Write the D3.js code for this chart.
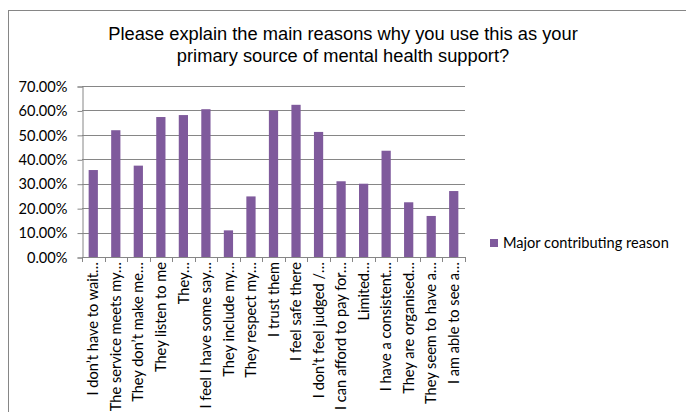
<!DOCTYPE html>
<html>
<head>
<meta charset="utf-8">
<script src="https://cdn.jsdelivr.net/npm/d3@7"></script>
<style>
  body { margin: 0; background: #fff; }
  svg { display: block; }
</style>
</head>
<body>
<script>
const width = 686;
const height = 412;

const titleLines = [
  "Please explain the main reasons why you use this as your",
  "primary source of mental health support?"
];
const categories = [
  "I don\u2019t have to wait\u2026",
  "The service meets my\u2026",
  "They don\u2019t make me\u2026",
  "They listen to me",
  "They\u2026",
  "I feel I have some say\u2026",
  "They include my\u2026",
  "They respect my\u2026",
  "I trust them",
  "I feel safe there",
  "I don\u2019t feel judged /\u2026",
  "I can afford to pay for\u2026",
  "Limited\u2026",
  "I have a consistent\u2026",
  "They are organised\u2026",
  "They seem to have a\u2026",
  "I am able to see a\u2026"
];
const values = [0.356, 0.519, 0.374, 0.573, 0.581, 0.605, 0.109, 0.248, 0.600,
  0.623, 0.512, 0.310, 0.300, 0.435, 0.224, 0.168, 0.270];
const yTicks = [0, 0.1, 0.2, 0.3, 0.4, 0.5, 0.6, 0.7];
const seriesName = "Major contributing reason";

const barColor = "#7f5a9c";
const bodyFont = "Lato, Carlito, Calibri, sans-serif";
const bodySize = "14.6px";
const plotLeft = 82, plotRight = 465, plotTop = 86, plotBottom = 257;

const svg = d3.select("body")
  .append("svg")
  .attr("width", width)
  .attr("height", height);

// chart border
svg.append("rect")
  .attr("x", 8.5).attr("y", 10.5)
  .attr("width", 700).attr("height", 420)
  .attr("fill", "none")
  .attr("stroke", "#868686");

svg.append("text")
  .attr("x", 343)
  .attr("y", 39.5)
  .attr("text-anchor", "middle")
  .style("font-family", "Liberation Sans, Arial, sans-serif")
  .style("font-size", "18.3px")
  .attr("fill", "#000")
  .selectAll("tspan")
  .data(titleLines)
  .join("tspan")
  .attr("x", 343)
  .attr("dy", (d, i) => i === 0 ? 0 : 22.5)
  .text(d => d);

const x = d3.scaleBand()
  .domain(categories)
  .range([plotLeft, plotRight])
  .paddingInner(0.59)
  .paddingOuter(0.295);

const y = d3.scaleLinear()
  .domain([0, 0.7])
  .range([plotBottom, plotTop]);

// gridlines
svg.append("g")
  .selectAll("line")
  .data(yTicks)
  .join("line")
  .attr("x1", plotLeft).attr("x2", plotRight)
  .attr("y1", d => Math.round(y(d)) + 0.5)
  .attr("y2", d => Math.round(y(d)) + 0.5)
  .attr("stroke", "#868686");

const yAxis = d3.axisLeft(y)
  .tickValues(yTicks)
  .tickFormat(d3.format(".2%"))
  .tickSize(5)
  .tickPadding(10);

svg.append("g")
  .attr("transform", `translate(${plotLeft + 0.5},0.5)`)
  .call(yAxis)
  .call(g => g.selectAll("path, line").attr("stroke", "#868686"))
  .call(g => g.selectAll("text")
    .style("font-family", bodyFont)
    .style("font-size", bodySize)
    .attr("fill", "#000"));

// bars
svg.append("g")
  .selectAll("rect")
  .data(values)
  .join("rect")
  .attr("x", (d, i) => x(categories[i]))
  .attr("y", d => y(d))
  .attr("width", x.bandwidth())
  .attr("height", d => plotBottom - y(d))
  .attr("fill", barColor);

// x axis line and boundary ticks
const xg = svg.append("g");
xg.append("line")
  .attr("x1", plotLeft).attr("x2", plotRight)
  .attr("y1", plotBottom + 0.5).attr("y2", plotBottom + 0.5)
  .attr("stroke", "#868686");
const boundary = i => Math.round(plotLeft + i * (plotRight - plotLeft) / categories.length) + 0.5;
xg.selectAll(".tick")
  .data(d3.range(categories.length + 1))
  .join("line")
  .attr("class", "tick")
  .attr("x1", boundary)
  .attr("x2", boundary)
  .attr("y1", plotBottom)
  .attr("y2", plotBottom + 5)
  .attr("stroke", "#868686");

xg.selectAll("text")
  .data(categories)
  .join("text")
  .attr("transform", d => `translate(${x(d) + x.bandwidth() / 2},${plotBottom + 5}) rotate(-90)`)
  .attr("text-anchor", "end")
  .attr("dy", "0.35em")
  .style("font-family", bodyFont)
  .style("font-size", bodySize)
  .attr("fill", "#000")
  .text(d => d);

// legend
const legend = svg.append("g")
  .attr("transform", "translate(490,239)");
legend.append("rect")
  .attr("width", 8).attr("height", 8)
  .attr("fill", barColor);
legend.append("text")
  .attr("x", 13)
  .attr("y", 4)
  .attr("dy", "0.35em")
  .style("font-family", bodyFont)
  .style("font-size", bodySize)
  .attr("fill", "#000")
  .text(seriesName);
</script>
</body>
</html>
